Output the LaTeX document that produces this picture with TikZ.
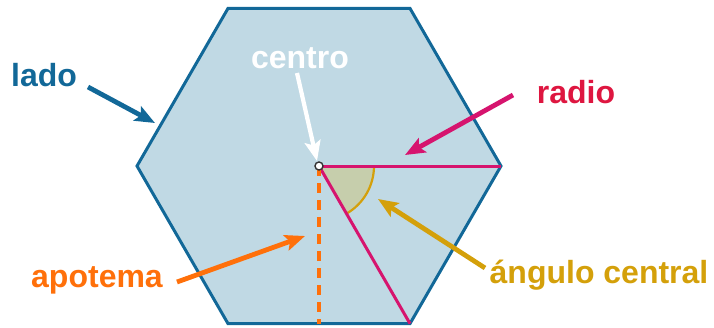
\documentclass[tikz,border=0pt]{standalone}
\usepackage{fontspec}
\setmainfont{Liberation Sans}
\usetikzlibrary{arrows.meta,calc}
\definecolor{hexfill}{RGB}{192,217,228}
\definecolor{hexblue}{RGB}{18,104,152}
\definecolor{radmag}{RGB}{214,20,110}
\definecolor{radred}{RGB}{222,22,64}
\definecolor{apoorange}{RGB}{255,112,10}
\definecolor{anggold}{RGB}{212,160,10}
\definecolor{angfill}{RGB}{198,206,172}
\tikzset{
  lbl/.style={font=\fontsize{32}{32}\selectfont\bfseries, inner sep=0pt, anchor=base},
  pointer/.style={-{Stealth[length=20pt,width=16pt,inset=4pt]}, line width=4.8pt},
  hexside/.style={draw=hexblue, fill=hexfill, line width=3pt, line join=miter},
  radline/.style={draw=radmag, line width=3pt},
  apoline/.style={draw=apoorange, line width=3.2pt, dash pattern=on 10pt off 7pt},
}

\begin{document}
\begin{tikzpicture}[x=1pt, y=-1pt]
  \useasboundingbox (0,0) rectangle (714,327);
  \coordinate (c) at (319,166);
  \foreach \i in {0,...,5}
    \coordinate (v\i) at ($(c)+(\i*60:182)$);
  \coordinate (foot) at ($(v1)!0.5!(v2)$);

  % hexagon
  \draw[hexside] (v0) -- (v1) -- (v2) -- (v3) -- (v4) -- (v5) -- cycle;

  % central angle
  \fill[angfill] (c) -- ++(0:55) arc[start angle=0, end angle=60, radius=55] -- cycle;
  \draw[anggold, line width=2.2pt] ($(c)+(0:55)$) arc[start angle=0, end angle=60, radius=55];

  % radii and apothem
  \draw[radline] (c) -- (v0);
  \draw[radline] (c) -- (v1);
  \draw[apoline] (c) -- (foot);
  \draw[fill=white, draw=black!80, line width=1.4pt] (c) circle[radius=4];

  % labels
  \node[lbl, text=hexblue] (lado) at (44,86) {lado};
  \node[lbl, text=white] (centro) at (300,68) {centro};
  \node[lbl, text=radred] (radio) at (576,103) {radio};
  \node[lbl, text=apoorange] (apotema) at (97,287) {apotema};
  \node[lbl, text=anggold] (angulo) at (599,283) {ángulo central};

  % pointers
  \coordinate (ladoA) at (88,87);   \coordinate (ladoB) at (155,123);
  \coordinate (centroA) at (297,73); \coordinate (centroB) at (317,161);
  \coordinate (radioA) at (513,95);  \coordinate (radioB) at (405,155);
  \coordinate (apoA) at (177,282);   \coordinate (apoB) at (305,236);
  \coordinate (angA) at (485,268);   \coordinate (angB) at (378,199);
  \draw[pointer, hexblue] (ladoA) -- (ladoB);
  \draw[pointer, white, line width=4.2pt] (centroA) -- (centroB);
  \draw[pointer, radmag] (radioA) -- (radioB);
  \draw[pointer, apoorange] (apoA) -- (apoB);
  \draw[pointer, anggold] (angA) -- (angB);
\end{tikzpicture}
\end{document}
